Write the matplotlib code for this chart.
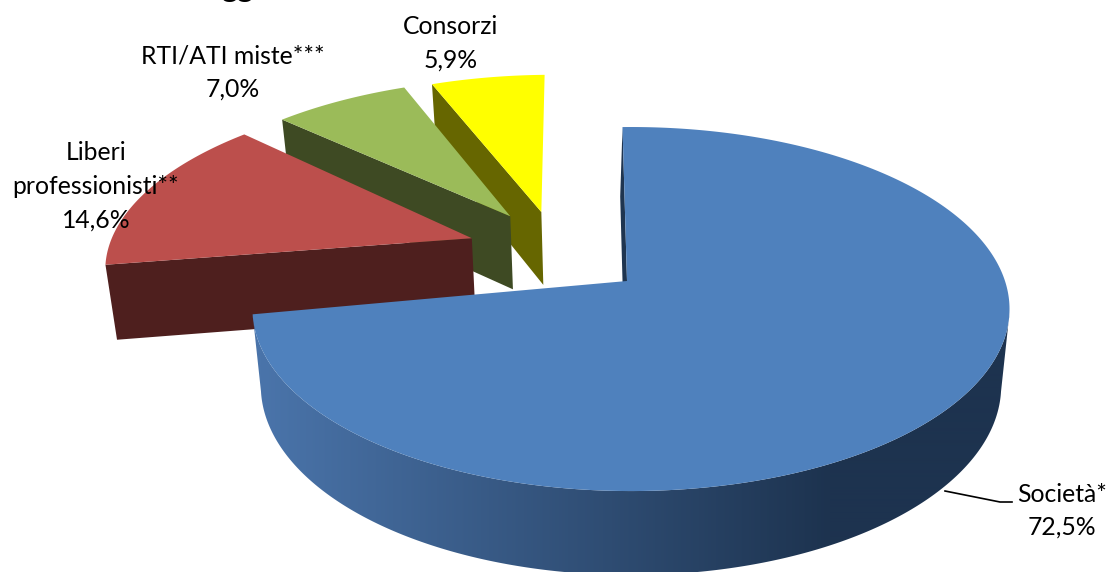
import numpy as np
import matplotlib
matplotlib.use('Agg')
import matplotlib.pyplot as plt
from matplotlib.patches import Polygon

labels = ['Società*', 'Liberi\nprofessionisti**', 'RTI/ATI miste***', 'Consorzi']
shares = [72.5, 14.6, 7.0, 5.9]
top_colors = ['#4f81bd', '#bc4f4c', '#9bbb59', '#ffff00']
wall_colors = ['#1f3550', '#4e1f1e', '#3e4a23', '#666600']
explode = [(0.0, 0.0), (-0.442, 0.275), (-0.342, 0.386), (-0.255, 0.413)]
apex_shift = [(-0.0107, 0.0), (0.0, -0.025), (0.0, 0.0), (0.0, 0.0)]
wall_shift = [-2.5, 0.0, 0.0, 0.0]
label_pos = [(1062, 494), (96, 153), (233, 56), (451, 27)]

# projection of the tilted pie, in pixels
CX, CY = 631, 281
A, B, K = 374, 177.7, 0.154
START = -1.5
BOTTOM_SCALE = 0.978


def project(u, v):
    den = 1 + K * v
    return CX + A * u / den, CY - B * v / den


def drop(x, y):
    # same point on the lower face of the pie
    depth = 73 + 0.04 * (y - 215)
    return CX + BOTTOM_SCALE * (x - CX), y + depth


def rim_gradient(x):
    t = np.clip((x - 262) / (830 - 262), 0, 1)[None, :, None]
    c0 = np.array([74, 116, 170])
    c1 = np.array([29, 51, 79])
    return (c0 + (c1 - c0) * t) / 255


fig = plt.figure(figsize=(11.10, 5.72), dpi=100)
ax = fig.add_axes([0, 0, 1, 1])
ax.axis('off')

angles = START + np.cumsum([0] + shares) * 3.6

# back slices first, the big one last
for i in [3, 2, 1, 0]:
    deg = np.linspace(angles[i], angles[i + 1], 400)
    a = np.radians(deg)
    ou, ov = explode[i]
    rx, ry = project(np.sin(a) + ou, np.cos(a) + ov)
    px, py = project(ou + apex_shift[i][0], ov + apex_shift[i][1])
    bx, by = drop(rx, ry)
    qx, qy = drop(px, py)
    z = 10 - i * 3

    # only the big slice shows its outer wall, shaded left to right
    if i == 0:
        keep = deg > 100
        ring = np.c_[np.r_[rx[keep], bx[keep][::-1]], np.r_[ry[keep], by[keep][::-1]]]
        grad_x = np.linspace(240, 1020, 780)
        img = ax.imshow(rim_gradient(grad_x), extent=(240, 1020, 590, 200),
                        aspect='auto', interpolation='bilinear', zorder=z)
        img.set_clip_path(Polygon(ring, transform=ax.transData))

    # cut face on the side that looks at the viewer
    sx = wall_shift[i]
    ax.fill([rx[0], px, qx + sx, bx[0] + sx], [ry[0], py, qy, by[0]],
            color=wall_colors[i], lw=0, zorder=z + 0.5)

    ax.fill(np.r_[px, rx], np.r_[py, ry], color=top_colors[i], lw=0, zorder=z + 1)

# leader line for the big slice
ax.plot([945, 1000, 1012], [491, 502, 502], color='black', lw=1.2, zorder=20)

for name, val, (x, y) in zip(labels, shares, label_pos):
    pct = f'{val:.1f}%'.replace('.', ',')
    lines = name.split('\n') + [pct]
    for n, line in enumerate(lines):
        ax.text(x, y + n * 33.5, line, family='Lato', fontsize=17.8,
                ha='center', va='center', color='black', zorder=30)

# bottom of the chart title, cut off by the picture edge
ax.text(237, 2, 'gg', family='Lato', fontsize=22, fontweight='bold',
        ha='center', va='bottom', color='black', zorder=30)

ax.set_xlim(0, 1110)
ax.set_ylim(572, 0)

fig.savefig('out.png', dpi=100, facecolor='white')
